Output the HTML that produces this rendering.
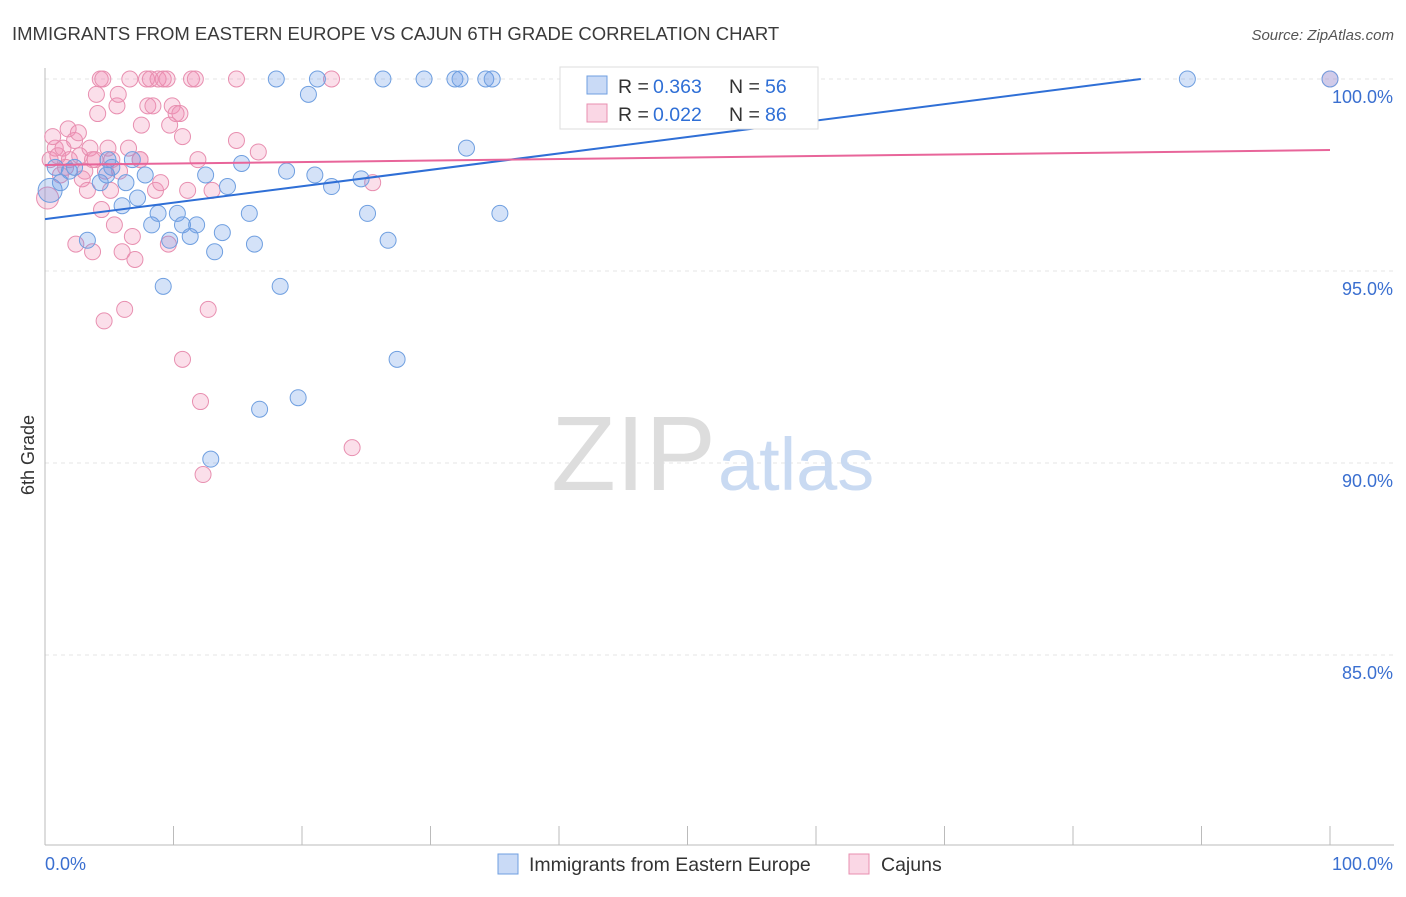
<!DOCTYPE html>
<html><head><meta charset="utf-8"><style>
body{margin:0;background:#fff;font-family:"Liberation Sans",sans-serif;}
svg text{font-family:"Liberation Sans",sans-serif;}
</style></head><body>
<svg width="1406" height="892" viewBox="0 0 1406 892">
<text x="12" y="40" font-size="18.5" fill="#3a3a3a">IMMIGRANTS FROM EASTERN EUROPE VS CAJUN 6TH GRADE CORRELATION CHART</text>
<text x="1394" y="40" font-size="15" fill="#555" font-style="italic" text-anchor="end">Source: ZipAtlas.com</text>
<g id="grid"></g>
<g id="axes"></g>
<text x="716" y="490" font-size="106" font-family="Liberation Serif" fill="#ddd" text-anchor="end">ZIP</text>
<text x="718" y="490" font-size="74" fill="#c9daf2">atlas</text>
<g id="pts"></g>
<g id="lines"></g>
<text x="34" y="455" font-size="18" fill="#333" transform="rotate(-90 34 455)" text-anchor="middle">6th Grade</text>
<g>
<rect x="560" y="67" width="258" height="62" fill="#fff" stroke="#ddd"/>
<rect x="587" y="76" width="20" height="18" fill="rgba(100,150,230,0.35)" stroke="#6f9fe0"/>
<text x="618" y="93" font-size="19.5" fill="#333">R = </text>
<text x="653" y="93" font-size="19.5" fill="#2f6fd6">0.363</text>
<text x="729" y="93" font-size="19.5" fill="#333">N = </text>
<text x="765" y="93" font-size="19.5" fill="#2f6fd6">56</text>
<rect x="587" y="104" width="20" height="18" fill="rgba(240,140,180,0.35)" stroke="#e88fb0"/>
<text x="618" y="121" font-size="19.5" fill="#333">R = </text>
<text x="653" y="121" font-size="19.5" fill="#2f6fd6">0.022</text>
<text x="729" y="121" font-size="19.5" fill="#333">N = </text>
<text x="765" y="121" font-size="19.5" fill="#2f6fd6">86</text>
</g>
<g>
<rect x="498" y="854" width="20" height="20" fill="rgba(100,150,230,0.35)" stroke="#6f9fe0"/>
<text x="529" y="871" font-size="19.5" fill="#333">Immigrants from Eastern Europe</text>
<rect x="849" y="854" width="20" height="20" fill="rgba(240,140,180,0.35)" stroke="#e88fb0"/>
<text x="881" y="871" font-size="19.5" fill="#333">Cajuns</text>
</g>
</svg>
<script>
const yTicks=[100,95,90,85];
const yTickLabels=["100.0%","95.0%","90.0%","85.0%"];
const blueX=[0.4,1.2,0.8,1.9,2.3,3.3,4.3,4.9,5.2,4.8,6.0,6.3,6.8,7.2,7.8,8.3,8.8,9.7,10.3,10.7,11.3,11.8,12.5,13.2,13.8,14.2,9.2,12.9,15.3,15.9,16.3,16.7,18.0,18.3,18.8,19.7,20.5,21.0,21.2,22.3,24.6,25.1,26.3,26.7,27.4,29.5,31.9,32.3,32.8,34.3,34.8,35.4,88.9,100];
const blueY=[97.1,97.3,97.7,97.6,97.7,95.8,97.3,97.9,97.7,97.5,96.7,97.3,97.9,96.9,97.5,96.2,96.5,95.8,96.5,96.2,95.9,96.2,97.5,95.5,96.0,97.2,94.6,90.1,97.8,96.5,95.7,91.4,100,94.6,97.6,91.7,99.6,97.5,100,97.2,97.4,96.5,100,95.8,92.7,100,100,100,98.2,100,100,96.5,100,100];
const pinkX=[0.2,0.4,0.8,0.6,1.0,1.4,1.8,1.9,2.3,2.6,2.7,3.1,3.5,3.7,4.0,4.1,4.3,4.5,4.4,4.7,4.9,5.2,5.4,5.6,5.7,5.8,6.0,6.2,4.6,2.4,3.7,6.5,6.6,6.8,7.0,7.4,7.5,7.9,8.0,8.2,8.4,8.6,8.8,9.0,9.2,9.5,9.6,9.7,9.9,10.2,10.5,10.7,10.7,11.1,11.4,11.7,11.9,12.1,12.3,12.7,13.0,14.9,14.9,16.6,22.3,23.9,25.5,100,1.6,1.2,2.9,3.9,3.3,5.1,7.4];
const pinkY=[96.9,97.9,98.2,98.5,98.0,98.2,98.7,97.9,98.4,98.6,98.0,97.6,98.2,97.9,99.6,99.1,100,100,96.6,97.6,98.2,97.9,96.2,99.3,99.6,97.6,95.5,94.0,93.7,95.7,95.5,98.2,100,95.9,95.3,97.9,98.8,100,99.3,100,99.3,97.1,100,97.3,100,100,95.7,98.8,99.3,99.1,99.1,98.5,92.7,97.1,100,100,97.9,91.6,89.7,94.0,97.1,100,98.4,98.1,100,90.4,97.3,100,97.7,97.5,97.4,97.9,97.1,97.1,97.9];
const blueLine=[96.35,100.63];
const pinkLine=[97.76,98.15];
const X0=45,X1=1330,Y100=79,PX=38.4;
const sx=v=>X0+(X1-X0)*v/100;
const sy=v=>Y100+(100-v)*PX;
const NS="http://www.w3.org/2000/svg";
function mk(t,a,p){const e=document.createElementNS(NS,t);for(const k in a)e.setAttribute(k,a[k]);p.appendChild(e);return e;}
const grid=document.getElementById('grid'),axes=document.getElementById('axes');
yTicks.forEach((v,i)=>{
 const l=mk('line',{x1:X0,x2:1394,y1:sy(v),y2:sy(v),stroke:'#e4e4e4','stroke-dasharray':'4,4'},grid);
 
 
 const t=mk('text',{x:1393,y:sy(v)+24,'font-size':18,fill:'#3a6fd0','text-anchor':'end'},axes);
 t.textContent=yTickLabels[i];
 
 
});
mk('line',{x1:X0,x2:X0,y1:68,y2:845,stroke:'#bbb'},axes);
mk('line',{x1:X0,x2:1394,y1:845,y2:845,stroke:'#bbb'},axes);
for(let i=0;i<=10;i++){const tk=mk('line',{x1:sx(i*10),x2:sx(i*10),y1:826,y2:845,stroke:'#bbb'},axes);
 
 }
let t=mk('text',{x:45,y:870,'font-size':18,fill:'#3a6fd0'},axes);t.textContent="0.0%";


t=mk('text',{x:1393,y:870,'font-size':18,fill:'#3a6fd0','text-anchor':'end'},axes);t.textContent="100.0%";


const pts=document.getElementById('pts');
pinkX.forEach((x,i)=>{const c=mk('circle',{cx:sx(x),cy:sy(pinkY[i]),r:i==0?11:8,fill:'rgba(240,140,180,0.28)',stroke:'#e88fb0','stroke-width':1},pts);
 
 });
blueX.forEach((x,i)=>{const c=mk('circle',{cx:sx(x),cy:sy(blueY[i]),r:i==0?12:8,fill:'rgba(100,150,230,0.28)',stroke:'#6f9fe0','stroke-width':1},pts);
 
 });
const lines=document.getElementById('lines');
const bxEnd=100*(100-blueLine[0])/(blueLine[1]-blueLine[0]);
const xe=Math.min(100,bxEnd);
let bl=mk('line',{x1:sx(0),y1:sy(blueLine[0]),x2:sx(xe),y2:sy(blueLine[0]+(blueLine[1]-blueLine[0])*xe/100),stroke:'#2f6fd6','stroke-width':2},lines);


let pl=mk('line',{x1:sx(0),y1:sy(pinkLine[0]),x2:sx(100),y2:sy(pinkLine[1]),stroke:'#e8659a','stroke-width':2},lines);


</script>
</body></html>
